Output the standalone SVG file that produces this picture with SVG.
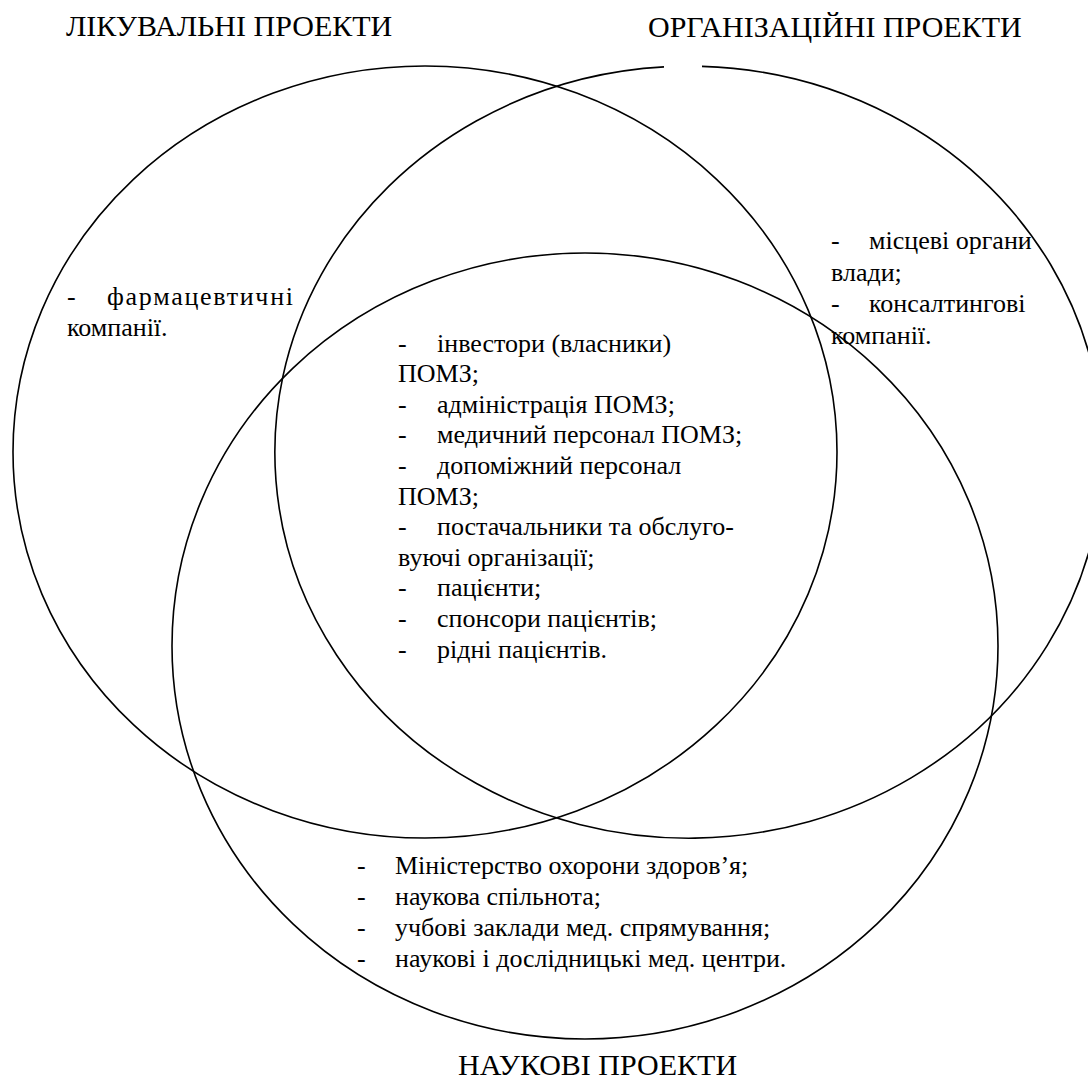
<svg xmlns="http://www.w3.org/2000/svg" width="1088" height="1079" viewBox="0 0 1088 1079">
  <style>
    .ring { fill: none; stroke: #000; stroke-width: 1.6; }
    .t, .title { font-family: "Liberation Serif", Tinos, "Times New Roman", Times, "Noto Serif", "DejaVu Serif", FreeSerif, serif; fill: #000; }
    .t { font-size: 26px; }
    .title { font-size: 30px; }
  </style>
  <rect width="1088" height="1079" fill="#fff"/>

  <g id="treatment">
    <ellipse class="ring" cx="425" cy="452" rx="412" ry="386"/>
    <text class="title" x="66" y="36">ЛІКУВАЛЬНІ ПРОЕКТИ</text>
    <text class="t" x="67" y="305">-</text>
    <text class="t" x="107" y="305" textLength="186" lengthAdjust="spacing">фармацевтичні</text>
    <text class="t" x="67" y="336">компанії.</text>
  </g>

  <g id="organisational">
    <path class="ring" d="M702,66.4 A414,386 0 1 1 664,66.9"/>
    <text class="title" x="648" y="37">ОРГАНІЗАЦІЙНІ ПРОЕКТИ</text>
    <text class="t" x="831" y="249">-</text>
    <text class="t" x="869" y="249">місцеві органи</text>
    <text class="t" x="831" y="280.5">влади;</text>
    <text class="t" x="831" y="312">-</text>
    <text class="t" x="869" y="312">консалтингові</text>
    <text class="t" x="831" y="343.5">компанії.</text>
  </g>

  <g id="scientific">
    <ellipse class="ring" cx="585" cy="646" rx="413" ry="393"/>
    <text class="title" x="458" y="1075">НАУКОВІ ПРОЕКТИ</text>
    <text class="t" x="357" y="874">-</text>
    <text class="t" x="395" y="874">Міністерство охорони здоров’я;</text>
    <text class="t" x="357" y="905">-</text>
    <text class="t" x="395" y="905">наукова спільнота;</text>
    <text class="t" x="357" y="936">-</text>
    <text class="t" x="395" y="936">учбові заклади мед. спрямування;</text>
    <text class="t" x="357" y="967">-</text>
    <text class="t" x="395" y="967">наукові і дослідницькі мед. центри.</text>
  </g>

  <g id="common">
    <text class="t" x="398" y="351.5">-</text>
    <text class="t" x="437" y="351.5">інвестори (власники)</text>
    <text class="t" x="398" y="382.1">ПОМЗ;</text>
    <text class="t" x="398" y="412.7">-</text>
    <text class="t" x="437" y="412.7">адміністрація ПОМЗ;</text>
    <text class="t" x="398" y="443.3">-</text>
    <text class="t" x="437" y="443.3">медичний персонал ПОМЗ;</text>
    <text class="t" x="398" y="473.9">-</text>
    <text class="t" x="437" y="473.9">допоміжний персонал</text>
    <text class="t" x="398" y="504.5">ПОМЗ;</text>
    <text class="t" x="398" y="535.1">-</text>
    <text class="t" x="437" y="535.1">постачальники та обслуго-</text>
    <text class="t" x="398" y="565.7">вуючі організації;</text>
    <text class="t" x="398" y="596.3">-</text>
    <text class="t" x="437" y="596.3">пацієнти;</text>
    <text class="t" x="398" y="626.9">-</text>
    <text class="t" x="437" y="626.9">спонсори пацієнтів;</text>
    <text class="t" x="398" y="657.5">-</text>
    <text class="t" x="437" y="657.5">рідні пацієнтів.</text>
  </g>

  <g id="connectors"/>
</svg>
